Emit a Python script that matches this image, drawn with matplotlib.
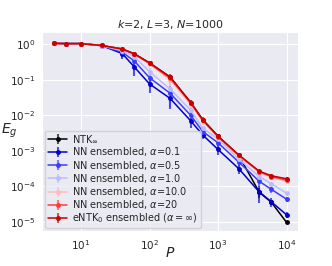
import numpy as np
import matplotlib
matplotlib.use("Agg")
import matplotlib.pyplot as plt
from matplotlib.colors import to_rgba
import seaborn as sns

sns.set_style("darkgrid")

# Training set sizes
P = [4, 6, 10, 20, 40, 60, 100, 200, 400, 600, 1000, 2000, 4000, 6000, 10000]

# Generalization error per model
E_ntk_inf = [1.07, 1.05, 1.05, 0.93, 0.74, 0.54, 0.30, 0.12, 0.023, 0.0075, 0.0026, 7.6e-4, 6.9e-5, 3.6e-5, 9.8e-6]
E_a01 = [1.07, 1.05, 1.05, 0.92, 0.55, 0.23, 0.077, 0.030, 0.0070, 0.0028, 1.1e-3, 3.2e-4, 7.0e-5, 3.7e-5, 1.6e-5]
E_a05 = [1.07, 1.05, 1.05, 0.92, 0.60, 0.34, 0.115, 0.042, 0.0100, 0.0035, 1.7e-3, 4.9e-4, 1.4e-4, 8.3e-5, 4.4e-5]
E_a1 = [1.07, 1.05, 1.05, 0.92, 0.66, 0.45, 0.17, 0.055, 0.0140, 0.0043, 2.2e-3, 6.0e-4, 1.9e-4, 1.2e-4, 6.5e-5]
E_a10 = [1.07, 1.05, 1.05, 0.93, 0.72, 0.52, 0.28, 0.10, 0.020, 0.0068, 0.0024, 7.2e-4, 2.5e-4, 1.8e-4, 1.40e-4]
E_a20 = [1.07, 1.05, 1.05, 0.93, 0.73, 0.53, 0.29, 0.11, 0.022, 0.0072, 0.0025, 7.5e-4, 2.6e-4, 1.9e-4, 1.50e-4]
E_entk = [1.07, 1.05, 1.05, 0.93, 0.74, 0.54, 0.30, 0.12, 0.023, 0.0075, 0.0026, 7.8e-4, 2.7e-4, 2.0e-4, 1.65e-4]

# relative error bar sizes
err_ntk_inf = [0.02, 0.02, 0.02, 0.02, 0.05, 0.05, 0.1, 0.1, 0.1, 0.1, 0.1, 0.1, 0.3, 0.1, 0.05]
err_a01 = [0.02, 0.02, 0.05, 0.02, 0.3, 0.45, 0.45, 0.5, 0.35, 0.2, 0.3, 0.3, 0.5, 0.3, 0.2]
err_a05 = [0.02, 0.02, 0.05, 0.02, 0.2, 0.4, 0.4, 0.6, 0.4, 0.3, 0.2, 0.3, 0.3, 0.2, 0.15]
err_a1 = [0.02, 0.02, 0.05, 0.02, 0.1, 0.2, 0.3, 0.5, 0.4, 0.2, 0.1, 0.1, 0.1, 0.1, 0.1]
err_a10 = [0.02, 0.02, 0.05, 0.02, 0.05, 0.1, 0.15, 0.3, 0.3, 0.2, 0.1, 0.1, 0.1, 0.1, 0.1]
err_a20 = [0.02, 0.02, 0.05, 0.02, 0.05, 0.1, 0.15, 0.25, 0.2, 0.2, 0.1, 0.1, 0.1, 0.1, 0.1]
err_entk = [0.02, 0.02, 0.05, 0.02, 0.05, 0.1, 0.15, 0.25, 0.15, 0.2, 0.1, 0.1, 0.1, 0.1, 0.1]

series = [
    (E_ntk_inf, err_ntk_inf, "black", r"NTK$_\infty$"),
    (E_a01, err_a01, "#0000c8", r"NN ensembled, $\alpha$=0.1"),
    (E_a05, err_a05, "#3c3cff", r"NN ensembled, $\alpha$=0.5"),
    (E_a1, err_a1, "#bcbcff", r"NN ensembled, $\alpha$=1.0"),
    (E_a10, err_a10, "#ffbcbc", r"NN ensembled, $\alpha$=10.0"),
    (E_a20, err_a20, "#ff3c3c", r"NN ensembled, $\alpha$=20"),
    (E_entk, err_entk, "#c80000", r"eNTK$_0$ ensembled ($\alpha = \infty$)"),
]

fig = plt.figure(figsize=(3.32, 2.66), dpi=100)
ax = fig.add_axes([0.127, 0.132, 0.771, 0.748])

for E, rel, c, lab in series:
    E = np.array(E)
    yerr = E * np.array(rel)
    ax.errorbar(P, E, yerr=yerr, color=c, ecolor=to_rgba(c, 0.65), marker="o",
                markersize=2.5, linewidth=1.1, elinewidth=1.5, label=lab)

ax.set_xscale("log")
ax.set_yscale("log")
ax.set_ylim(10**-5.25, 10**0.35)
ax.set_title(r"$k$=2, $L$=3, $N$=1000", fontsize=8, pad=3)
ax.set_xlabel(r"$P$", fontsize=10)
ax.xaxis.set_label_coords(0.5, -0.075)
ax.set_ylabel(r"$E_g$", fontsize=10, rotation=0, ha="center", va="center")
ax.yaxis.set_label_coords(-0.13, 0.505)
ax.tick_params(labelsize=7.5, pad=1.5)
ax.legend(loc="lower left", fontsize=7, handlelength=2.0, labelspacing=0.02,
          borderpad=0.3, handletextpad=0.5, borderaxespad=0.3)

plt.savefig("out.png", dpi=100)
